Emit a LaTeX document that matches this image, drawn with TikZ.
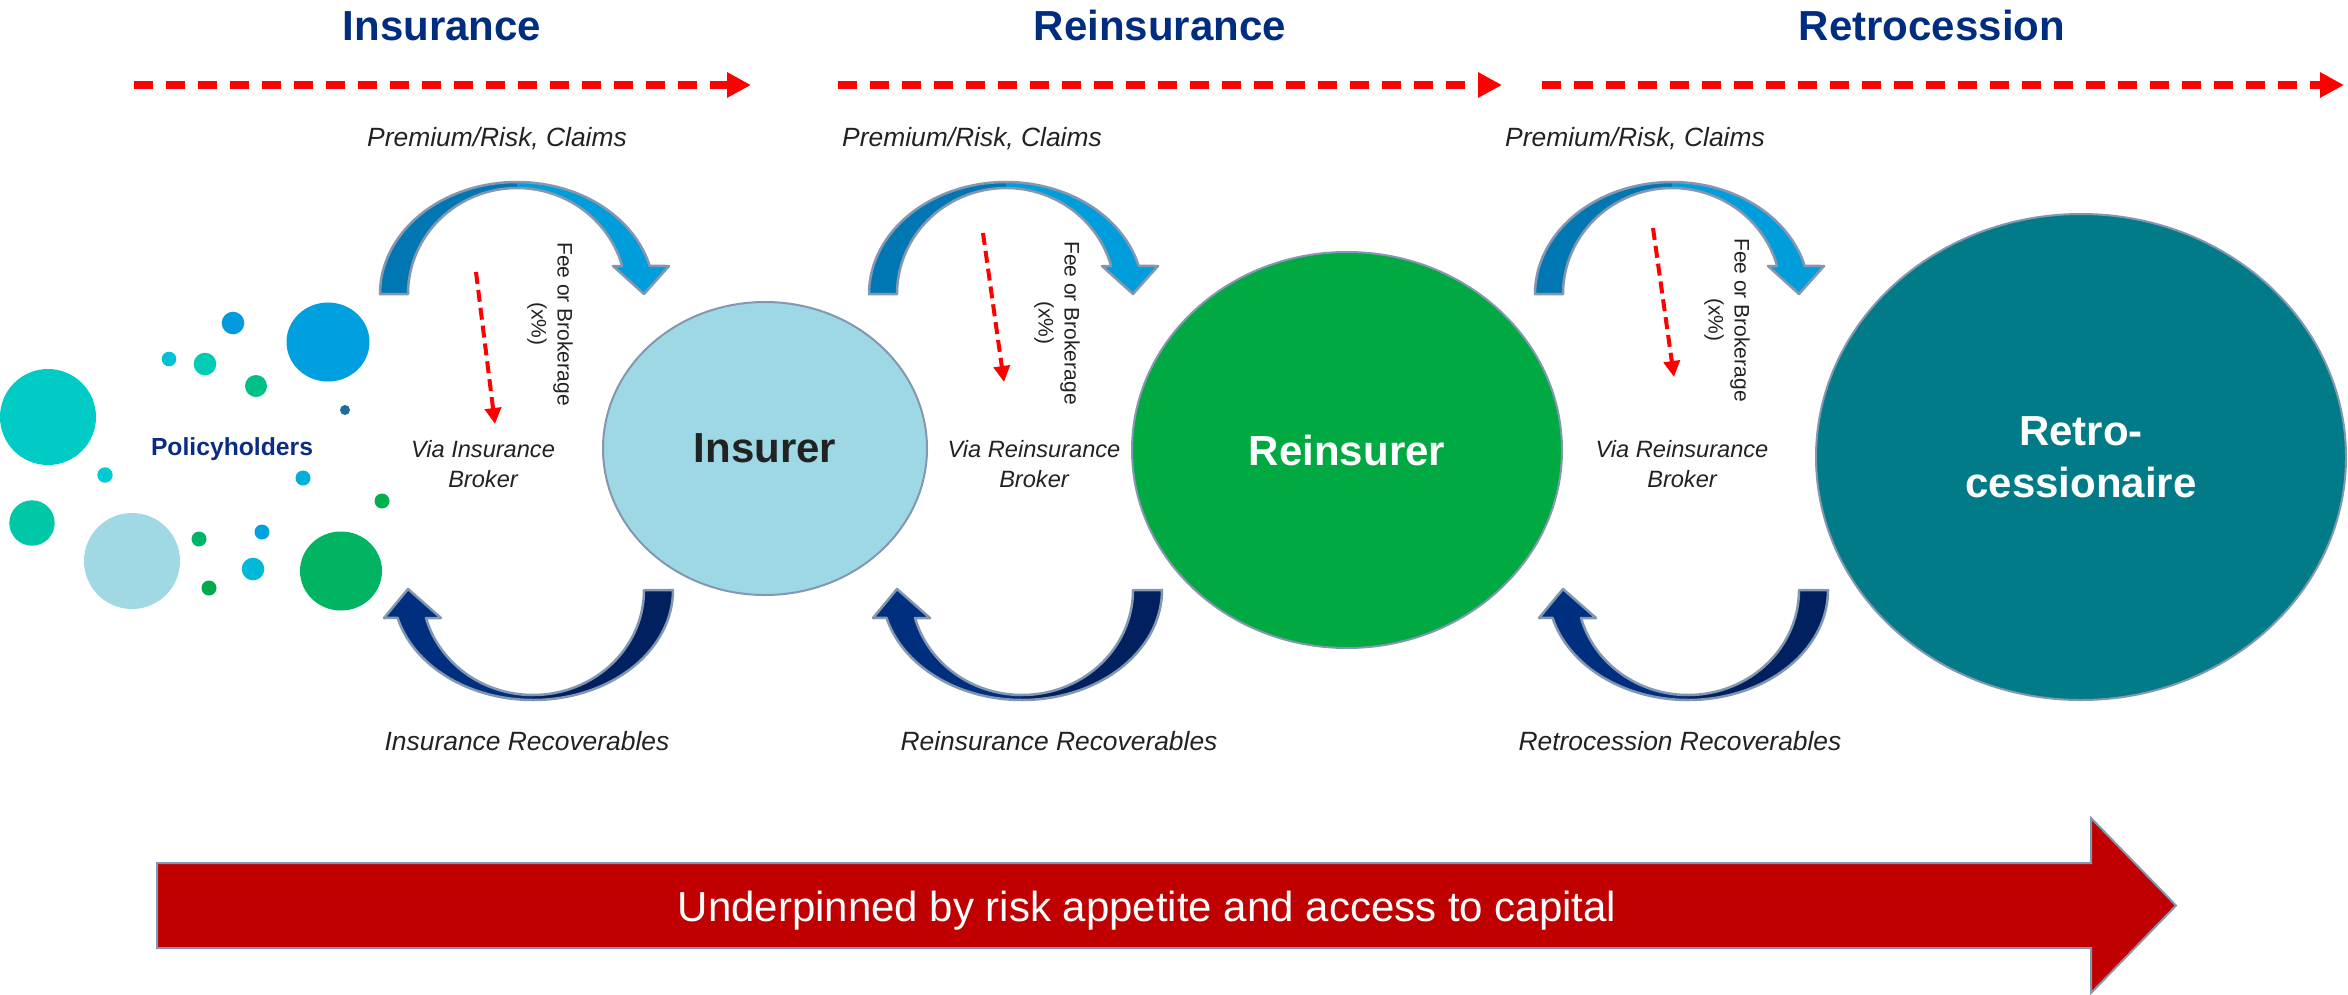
\documentclass[tikz,border=0pt]{standalone}
\usepackage{fontspec}
\setmainfont{Liberation Sans}
\usetikzlibrary{arrows.meta,shapes.geometric}
\definecolor{hdrblue}{HTML}{002D80}
\definecolor{txtdark}{HTML}{222222}
\definecolor{edgecol}{HTML}{8497B0}
\definecolor{topdark}{HTML}{0077B3}
\definecolor{toplight}{HTML}{009DDC}
\definecolor{botdark}{HTML}{002060}
\definecolor{botlight}{HTML}{002F80}
\definecolor{insfill}{HTML}{9DD8E4}
\definecolor{reinsfill}{HTML}{00A941}
\definecolor{retrofill}{HTML}{007B87}
\definecolor{bigred}{HTML}{C00000}
\definecolor{dashred}{HTML}{FF0000}
\definecolor{polyblue}{HTML}{0A2C84}
\newcommand\myTopArrow{%
  \fill[topdark] plot[domain=180:90,samples=40] ({517+137*cos(\x)},{294-112*sin(\x)})
    -- plot[domain=90:180,samples=40] ({517+109*cos(\x)},{294-106*sin(\x)}) -- cycle;
  \fill[toplight] plot[domain=90:14.5,samples=40] ({517+137*cos(\x)},{294-112*sin(\x)})
    -- (669,266) -- (644,294) -- (613,266)
    -- plot[domain=15.3:90,samples=40] ({517+109*cos(\x)},{294-106*sin(\x)}) -- cycle;
  \draw[edgeline] plot[domain=180:14.5,samples=80] ({517+137*cos(\x)},{294-112*sin(\x)})
    -- (669,266) -- (644,294) -- (613,266)
    -- plot[domain=15.3:180,samples=80] ({517+109*cos(\x)},{294-106*sin(\x)}) -- cycle;
}
\newcommand\myBotArrow{%
  \fill[botdark] plot[domain=0:90,samples=40] ({533+140*cos(\x)},{590+110*sin(\x)})
    -- plot[domain=90:0,samples=40] ({533+111*cos(\x)},{590+105*sin(\x)}) -- cycle;
  \fill[botlight] plot[domain=90:165.3,samples=40] ({533+140*cos(\x)},{590+110*sin(\x)})
    -- (384,618) -- (408,589) -- (441,618)
    -- plot[domain=164.5:90,samples=40] ({533+111*cos(\x)},{590+105*sin(\x)}) -- cycle;
  \draw[edgeline] plot[domain=0:165.3,samples=80] ({533+140*cos(\x)},{590+110*sin(\x)})
    -- (384,618) -- (408,589) -- (441,618)
    -- plot[domain=164.5:0,samples=80] ({533+111*cos(\x)},{590+105*sin(\x)}) -- cycle;
}
\begin{document}
\begin{tikzpicture}[x=1pt,y=-1pt,
  edgeline/.style={draw=edgecol, line width=2.5pt, line join=round},
  hdrtext/.style={font=\fontsize{42}{50}\selectfont\bfseries, text=hdrblue, anchor=base, inner sep=0pt},
  lbltext/.style={font=\fontsize{26.4}{31}\selectfont\itshape, text=txtdark, anchor=base, inner sep=0pt},
  viatext/.style={font=\fontsize{23.6}{30}\selectfont\itshape, text=txtdark, align=center, inner sep=0pt},
  feetext/.style={font=\fontsize{21}{26}\selectfont, text=txtdark, align=center, rotate=-90, inner sep=0pt},
  hdash/.style={dashred, line width=8pt, dash pattern=on 19pt off 13pt, -{Triangle[length=24pt,width=24pt]}},
  vdash/.style={dashred, line width=4pt, dash pattern=on 12pt off 6pt, -{Triangle[length=16pt,width=16pt]}},
  party/.style={ellipse, draw=edgecol, line width=2pt, inner sep=0pt, font=\fontsize{42}{52}\selectfont\bfseries, align=center}
]
\useasboundingbox (0,0) rectangle (2348,994);
\fill[white] (0,0) rectangle (2348,994);

% headers
\node[hdrtext] (hIns) at (442,40) {Insurance};
\node[hdrtext] (hRe) at (1160,40) {Reinsurance};
\node[hdrtext] (hRetro) at (1932,40) {Retrocession};

% dashed header arrows
\coordinate (d1s) at (134,85); \coordinate (d1e) at (751,85);
\coordinate (d2s) at (838,85); \coordinate (d2e) at (1502,85);
\coordinate (d3s) at (1542,85); \coordinate (d3e) at (2344,85);
\draw[hdash] (d1s) -- (d1e);
\draw[hdash] (d2s) -- (d2e);
\draw[hdash] (d3s) -- (d3e);

% policyholder bubbles
\fill[fill={rgb,255:red,0;green,203;blue,197}] (48,417) circle (48);
\fill[fill={rgb,255:red,0;green,159;blue,223}] (328,342) ellipse [x radius=41.5, y radius=39.5];
\fill[fill={rgb,255:red,3;green,155;blue,221}] (233,323) circle (11.3);
\fill[fill={rgb,255:red,0;green,194;blue,214}] (169,359) circle (7.3);
\fill[fill={rgb,255:red,0;green,203;blue,180}] (205,364) circle (11.3);
\fill[fill={rgb,255:red,0;green,191;blue,135}] (256,386) circle (11);
\fill[fill={rgb,255:red,31;green,108;blue,163}] (345,410) circle (5);
\fill[fill={rgb,255:red,0;green,203;blue,211}] (105,475) circle (7.7);
\fill[fill={rgb,255:red,0;green,199;blue,166}] (32,523) circle (22.7);
\fill[fill={rgb,255:red,160;green,217;blue,228}] (132,561) circle (48);
\fill[fill={rgb,255:red,0;green,176;blue,218}] (303,478) circle (7.5);
\fill[fill={rgb,255:red,0;green,177;blue,79}] (382,501) circle (7.5);
\fill[fill={rgb,255:red,0;green,180;blue,103}] (199,539) circle (7.5);
\fill[fill={rgb,255:red,0;green,162;blue,223}] (262,532) circle (7.5);
\fill[fill={rgb,255:red,0;green,185;blue,214}] (253,569) circle (11.3);
\fill[fill={rgb,255:red,0;green,169;blue,76}] (209,588) circle (7.5);
\fill[fill={rgb,255:red,0;green,180;blue,98}] (341,571) ellipse [x radius=41, y radius=39.5];
\node[font=\fontsize{24.7}{30}\selectfont\bfseries, text=polyblue, anchor=base, inner sep=0pt] (poly) at (232,455) {Policyholders};

% parties
\node[party, fill=insfill, text=txtdark, minimum width=324pt, minimum height=293pt] (insurer) at (765,448.5) {Insurer};
\node[party, fill=reinsfill, text=white, minimum width=430pt, minimum height=396pt] (reinsurer) at (1347,450) {Reinsurer};
\node[party, fill=retrofill, text=white, minimum width=530pt, minimum height=486pt] (retro) at (2081,457) {Retro-\\cessionaire};

% curved arrows
\begin{scope}\myTopArrow\myBotArrow\end{scope}
\begin{scope}[xshift=489pt]\myTopArrow\myBotArrow\end{scope}
\begin{scope}[xshift=1155pt]\myTopArrow\myBotArrow\end{scope}

% labels
\node[lbltext] (p1) at (497,146) {Premium/Risk, Claims};
\node[lbltext] (p2) at (972,146) {Premium/Risk, Claims};
\node[lbltext] (p3) at (1635,146) {Premium/Risk, Claims};

\node[feetext] (f1) at (550,324) {Fee or Brokerage\\(x\%)};
\node[feetext] (f2) at (1057,323) {Fee or Brokerage\\(x\%)};
\node[feetext] (f3) at (1727,320) {Fee or Brokerage\\(x\%)};

\coordinate (v1s) at (476,272); \coordinate (v1e) at (495,424);
\coordinate (v2s) at (983,233); \coordinate (v2e) at (1004,382);
\coordinate (v3s) at (1653,228); \coordinate (v3e) at (1674,377);
\draw[vdash] (v1s) -- (v1e);
\draw[vdash] (v2s) -- (v2e);
\draw[vdash] (v3s) -- (v3e);

\node[viatext] (b1) at (483,464) {Via Insurance\\Broker};
\node[viatext] (b2) at (1034,464) {Via Reinsurance\\Broker};
\node[viatext] (b3) at (1682,464) {Via Reinsurance\\Broker};

\node[lbltext] (r1) at (527,750) {Insurance Recoverables};
\node[lbltext] (r2) at (1059,750) {Reinsurance Recoverables};
\node[lbltext] (r3) at (1680,750) {Retrocession Recoverables};

% big bottom arrow
\draw[fill=bigred, draw=edgecol, line width=2pt, line join=miter]
  (157,863) -- (2091,863) -- (2091,818) -- (2176,905.5) -- (2091,993) -- (2091,948) -- (157,948) -- cycle;
\node[font=\fontsize{42}{50}\selectfont, text=white, anchor=base, inner sep=0pt] (cap) at (1147,921) {Underpinned by risk appetite and access to capital};
\end{tikzpicture}
\end{document}
